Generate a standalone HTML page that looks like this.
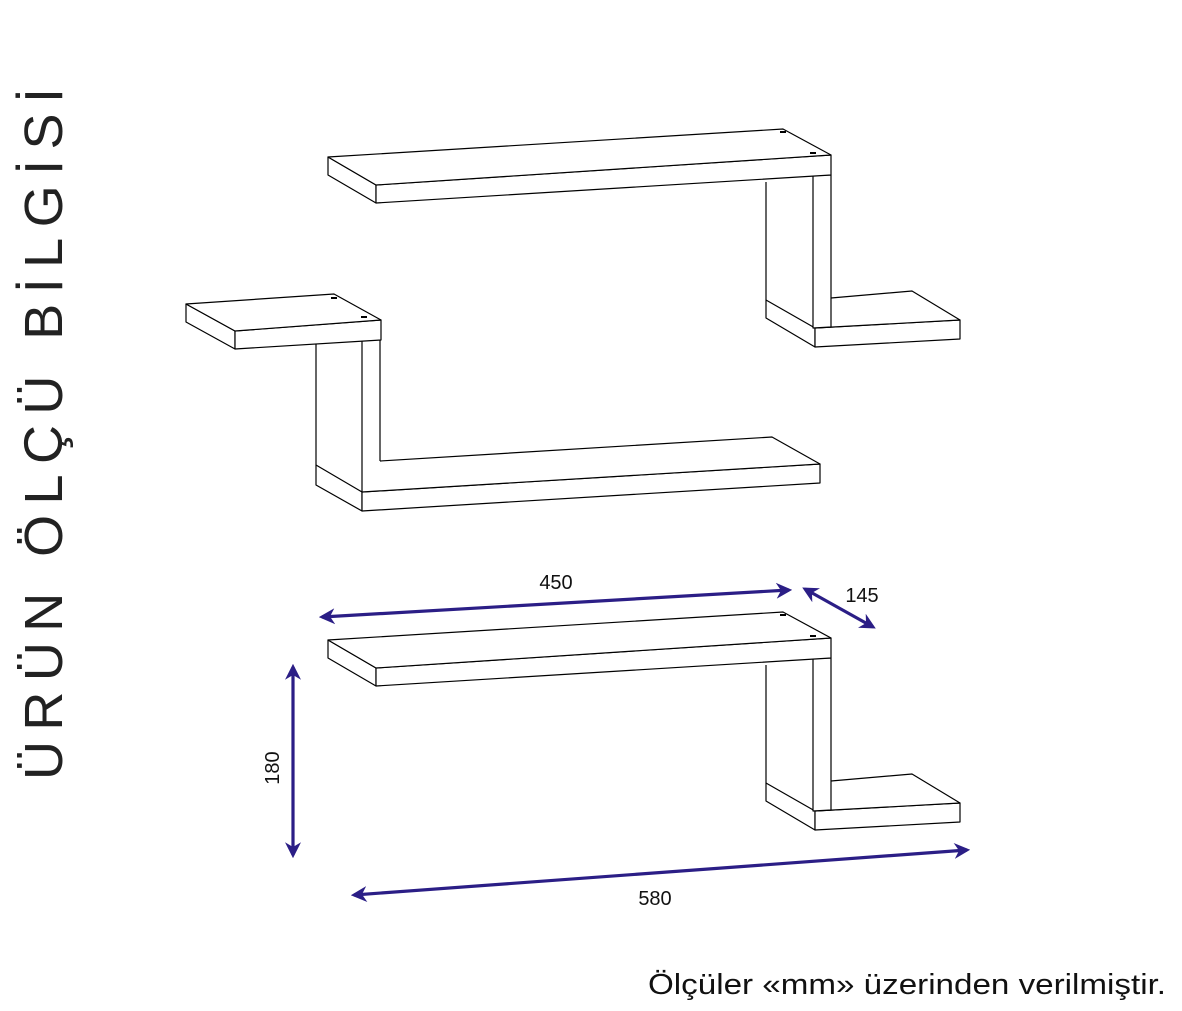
<!DOCTYPE html>
<html><head><meta charset="utf-8"><style>
html,body{margin:0;padding:0;background:#fff;}
svg{display:block;}
</style></head><body>
<svg width="1182" height="1011" viewBox="0 0 1182 1011" xmlns="http://www.w3.org/2000/svg">
<defs>
<marker id="ah" viewBox="0 0 10 10" refX="8" refY="5" markerWidth="5" markerHeight="5" orient="auto-start-reverse">
<path d="M0,0 L10,5 L0,10 L3,5 Z" fill="#2b1e86"/>
</marker>
<g id="sh" fill="#fff" stroke="#000" stroke-width="1.2" stroke-linejoin="round">
<!-- vertical panel -->
<polygon points="766,182 813,175 813,328 766,300" stroke="none"/>
<polyline points="766,182 766,300" fill="none"/>
<!-- right lower shelf -->
<polygon points="766,300 815,328 815,347 766,318"/>
<polygon points="815,328 960,320 960,339 815,347"/>
<polygon points="815,328 831,298 912,291 960,320" stroke="none"/>
<polyline points="831,298 912,291 960,320 815,328" fill="none"/>
<polygon points="813,175 831,175 831,327 813,328"/>
<!-- top shelf -->
<polygon points="328,157 376,185 376,203 328,175"/>
<polygon points="376,185 831,155 831,175 376,203"/>
<polygon points="328,157 783,129 831,155 376,185"/>
<rect x="780" y="131" width="6" height="2" fill="#000" stroke="none"/>
<rect x="810" y="152" width="6" height="2" fill="#000" stroke="none"/>
</g>
</defs>
<use href="#sh"/>
<use href="#sh" transform="translate(0,483)"/>
<!-- middle shelf -->
<g fill="#fff" stroke="#000" stroke-width="1.2" stroke-linejoin="round">
<polygon points="316,344 362,341 362,492 316,465" stroke="none"/>
<polyline points="316,344 316,465" fill="none"/>
<polygon points="316,465 362,492 362,511 316,485"/>
<polygon points="362,492 820,464 820,483 362,511"/>
<polygon points="380,461 772,437 820,464 362,492" stroke="none"/>
<polyline points="380,461 772,437 820,464 362,492" fill="none"/>
<polygon points="362,341 380,340 380,461 362,492" stroke="none"/>
<polyline points="362,341 362,492" fill="none"/>
<polyline points="380,340 380,461" fill="none"/>
<polygon points="186,304 235,331 235,349 186,322"/>
<polygon points="235,331 381,320 381,340 235,349"/>
<polygon points="186,304 334,294 381,320 235,331"/>
<rect x="331" y="297" width="6" height="2" fill="#000" stroke="none"/>
<rect x="361" y="316" width="6" height="2" fill="#000" stroke="none"/>
</g>
<!-- dimensions -->
<g stroke="#2b1e86" stroke-width="3.2" fill="none">
<line x1="322" y1="617" x2="789" y2="590" marker-start="url(#ah)" marker-end="url(#ah)"/>
<line x1="805" y1="589" x2="873" y2="627" marker-start="url(#ah)" marker-end="url(#ah)"/>
<line x1="293" y1="667" x2="293" y2="855" marker-start="url(#ah)" marker-end="url(#ah)"/>
<line x1="354" y1="895" x2="967" y2="850" marker-start="url(#ah)" marker-end="url(#ah)"/>
</g>
<g font-family="Liberation Sans, sans-serif" font-size="20" fill="#111">
<text x="556" y="589" text-anchor="middle">450</text>
<text x="862" y="602" text-anchor="middle">145</text>
<text x="655" y="905" text-anchor="middle">580</text>
<text transform="translate(279,768) rotate(-90)" text-anchor="middle">180</text>
<text x="648" y="994" font-size="29" textLength="518" lengthAdjust="spacingAndGlyphs">Ölçüler «mm» üzerinden verilmiştir.</text>
</g>
<text transform="translate(62,780) rotate(-90)" font-family="Liberation Sans, sans-serif" font-size="54" fill="#222" textLength="692" lengthAdjust="spacing">ÜRÜN ÖLÇÜ BİLGİSİ</text>
</svg>
</body></html>
